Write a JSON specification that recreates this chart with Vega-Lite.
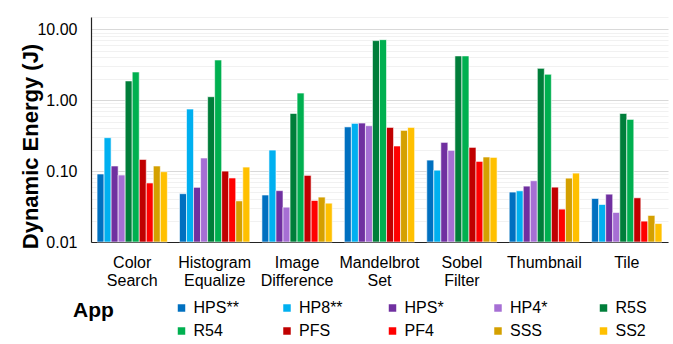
{
  "$schema": "https://vega.github.io/schema/vega-lite/v6.json",
  "autosize": {"type": "none"},
  "padding": {"left": 91, "top": 17, "right": 5, "bottom": 102},
  "width": 577,
  "height": 225,
  "background": "white",
  "config": {
    "font": "Liberation Sans",
    "view": {"stroke": null}
  },
  "data": {
    "values": [
      {"app": "Color Search", "config": "HPS**", "energy": 0.091},
      {"app": "Color Search", "config": "HP8**", "energy": 0.296},
      {"app": "Color Search", "config": "HPS*", "energy": 0.118},
      {"app": "Color Search", "config": "HP4*", "energy": 0.088},
      {"app": "Color Search", "config": "R5S", "energy": 1.87},
      {"app": "Color Search", "config": "R54", "energy": 2.5},
      {"app": "Color Search", "config": "PFS", "energy": 0.146},
      {"app": "Color Search", "config": "PF4", "energy": 0.068},
      {"app": "Color Search", "config": "SSS", "energy": 0.118},
      {"app": "Color Search", "config": "SS2", "energy": 0.098},

      {"app": "Histogram Equalize", "config": "HPS**", "energy": 0.048},
      {"app": "Histogram Equalize", "config": "HP8**", "energy": 0.75},
      {"app": "Histogram Equalize", "config": "HPS*", "energy": 0.059},
      {"app": "Histogram Equalize", "config": "HP4*", "energy": 0.153},
      {"app": "Histogram Equalize", "config": "R5S", "energy": 1.12},
      {"app": "Histogram Equalize", "config": "R54", "energy": 3.69},
      {"app": "Histogram Equalize", "config": "PFS", "energy": 0.1},
      {"app": "Histogram Equalize", "config": "PF4", "energy": 0.08},
      {"app": "Histogram Equalize", "config": "SSS", "energy": 0.038},
      {"app": "Histogram Equalize", "config": "SS2", "energy": 0.114},

      {"app": "Image Difference", "config": "HPS**", "energy": 0.046},
      {"app": "Image Difference", "config": "HP8**", "energy": 0.198},
      {"app": "Image Difference", "config": "HPS*", "energy": 0.053},
      {"app": "Image Difference", "config": "HP4*", "energy": 0.031},
      {"app": "Image Difference", "config": "R5S", "energy": 0.65},
      {"app": "Image Difference", "config": "R54", "energy": 1.26},
      {"app": "Image Difference", "config": "PFS", "energy": 0.087},
      {"app": "Image Difference", "config": "PF4", "energy": 0.0385},
      {"app": "Image Difference", "config": "SSS", "energy": 0.043},
      {"app": "Image Difference", "config": "SS2", "energy": 0.0353},

      {"app": "Mandelbrot Set", "config": "HPS**", "energy": 0.42},
      {"app": "Mandelbrot Set", "config": "HP8**", "energy": 0.471},
      {"app": "Mandelbrot Set", "config": "HPS*", "energy": 0.476},
      {"app": "Mandelbrot Set", "config": "HP4*", "energy": 0.436},
      {"app": "Mandelbrot Set", "config": "R5S", "energy": 6.92},
      {"app": "Mandelbrot Set", "config": "R54", "energy": 7.14},
      {"app": "Mandelbrot Set", "config": "PFS", "energy": 0.413},
      {"app": "Mandelbrot Set", "config": "PF4", "energy": 0.226},
      {"app": "Mandelbrot Set", "config": "SSS", "energy": 0.375},
      {"app": "Mandelbrot Set", "config": "SS2", "energy": 0.413},

      {"app": "Sobel Filter", "config": "HPS**", "energy": 0.143},
      {"app": "Sobel Filter", "config": "HP8**", "energy": 0.103},
      {"app": "Sobel Filter", "config": "HPS*", "energy": 0.254},
      {"app": "Sobel Filter", "config": "HP4*", "energy": 0.196},
      {"app": "Sobel Filter", "config": "R5S", "energy": 4.21},
      {"app": "Sobel Filter", "config": "R54", "energy": 4.21},
      {"app": "Sobel Filter", "config": "PFS", "energy": 0.216},
      {"app": "Sobel Filter", "config": "PF4", "energy": 0.137},
      {"app": "Sobel Filter", "config": "SSS", "energy": 0.158},
      {"app": "Sobel Filter", "config": "SS2", "energy": 0.156},

      {"app": "Thumbnail", "config": "HPS**", "energy": 0.0506},
      {"app": "Thumbnail", "config": "HP8**", "energy": 0.0527},
      {"app": "Thumbnail", "config": "HPS*", "energy": 0.0614},
      {"app": "Thumbnail", "config": "HP4*", "energy": 0.0731},
      {"app": "Thumbnail", "config": "R5S", "energy": 2.81},
      {"app": "Thumbnail", "config": "R54", "energy": 2.32},
      {"app": "Thumbnail", "config": "PFS", "energy": 0.0594},
      {"app": "Thumbnail", "config": "PF4", "energy": 0.0291},
      {"app": "Thumbnail", "config": "SSS", "energy": 0.0796},
      {"app": "Thumbnail", "config": "SS2", "energy": 0.0937},

      {"app": "Tile", "config": "HPS**", "energy": 0.0411},
      {"app": "Tile", "config": "HP8**", "energy": 0.0338},
      {"app": "Tile", "config": "HPS*", "energy": 0.0473},
      {"app": "Tile", "config": "HP4*", "energy": 0.0261},
      {"app": "Tile", "config": "R5S", "energy": 0.65},
      {"app": "Tile", "config": "R54", "energy": 0.536},
      {"app": "Tile", "config": "PFS", "energy": 0.042},
      {"app": "Tile", "config": "PF4", "energy": 0.0197},
      {"app": "Tile", "config": "SSS", "energy": 0.0237},
      {"app": "Tile", "config": "SS2", "energy": 0.0182}
    ]
  },
  "mark": {"type": "bar", "stroke": "white", "strokeWidth": 1, "strokeOpacity": 0.6},
  "encoding": {
    "x": {
      "field": "app",
      "type": "nominal",
      "sort": ["Color Search", "Histogram Equalize", "Image Difference", "Mandelbrot Set", "Sobel Filter", "Thumbnail", "Tile"],
      "scale": {"paddingInner": 0.147, "paddingOuter": 0.0735},
      "axis": {
        "title": null,
        "labelAngle": 0,
        "labelExpr": "split(datum.label, ' ')",
        "labelFontSize": 16,
        "labelColor": "black",
        "labelLineHeight": 18,
        "labelBaseline": "top",
        "labelPadding": 12,
        "ticks": false,
        "domainColor": "#222222",
        "domainWidth": 1.2
      }
    },
    "xOffset": {
      "field": "config",
      "type": "nominal",
      "sort": ["HPS**", "HP8**", "HPS*", "HP4*", "R5S", "R54", "PFS", "PF4", "SSS", "SS2"],
      "scale": {"paddingInner": 0, "paddingOuter": 0}
    },
    "y": {
      "field": "energy",
      "type": "quantitative",
      "stack": null,
      "scale": {"type": "log", "domain": [0.01, 14.9], "nice": false},
      "axis": {
        "title": "Dynamic Energy (J)",
        "titleFontSize": 22,
        "titleFontWeight": "bold",
        "titleColor": "black",
        "titlePadding": -6,
        "titleY": 129,
        "values": [0.01, 0.02, 0.03, 0.04, 0.05, 0.06, 0.07, 0.08, 0.09,
                   0.1, 0.2, 0.3, 0.4, 0.5, 0.6, 0.7, 0.8, 0.9,
                   1, 2, 3, 4, 5, 6, 7, 8, 9, 10, 14.9],
        "labelExpr": "abs(log(datum.value) / LN10 - round(log(datum.value) / LN10)) < 1e-6 ? format(datum.value, '.2f') : ''",
        "labelFontSize": 16,
        "labelColor": "black",
        "labelPadding": 14,
        "labelOverlap": false,
        "labelBound": false,
        "ticks": false,
        "domainColor": "#222222",
        "domainWidth": 1.2,
        "grid": true,
        "gridWidth": 1,
        "gridColor": {
          "condition": {
            "test": "abs(log(datum.value) / LN10 - round(log(datum.value) / LN10)) < 1e-6",
            "value": "#d9d9d9"
          },
          "value": "#f1f1f1"
        }
      }
    },
    "y2": {"datum": 0.01},
    "color": {
      "field": "config",
      "type": "nominal",
      "scale": {
        "domain": ["HPS**", "HP8**", "HPS*", "HP4*", "R5S", "R54", "PFS", "PF4", "SSS", "SS2"],
        "range": ["#0070C0", "#00B0F0", "#7030A0", "#A66FD4", "#007E3A", "#00B050", "#C00000", "#FF0000", "#D4A000", "#FFC000"]
      },
      "legend": {
        "title": "App",
        "orient": "none",
        "legendX": -18,
        "legendY": 283,
        "direction": "horizontal",
        "columns": 5,
        "gridAlign": "all",
        "columnPadding": 39.5,
        "rowPadding": 7,
        "padding": 0,
        "titleOrient": "left",
        "titleAnchor": "start",
        "titleBaseline": "top",
        "titleFontSize": 21,
        "titleFontWeight": "bold",
        "titleColor": "black",
        "titlePadding": 59.5,
        "symbolType": "square",
        "symbolSize": 56,
        "symbolStrokeWidth": 0,
        "symbolOpacity": 1,
        "labelFontSize": 16,
        "labelColor": "black",
        "labelOffset": 4
      }
    }
  }
}
